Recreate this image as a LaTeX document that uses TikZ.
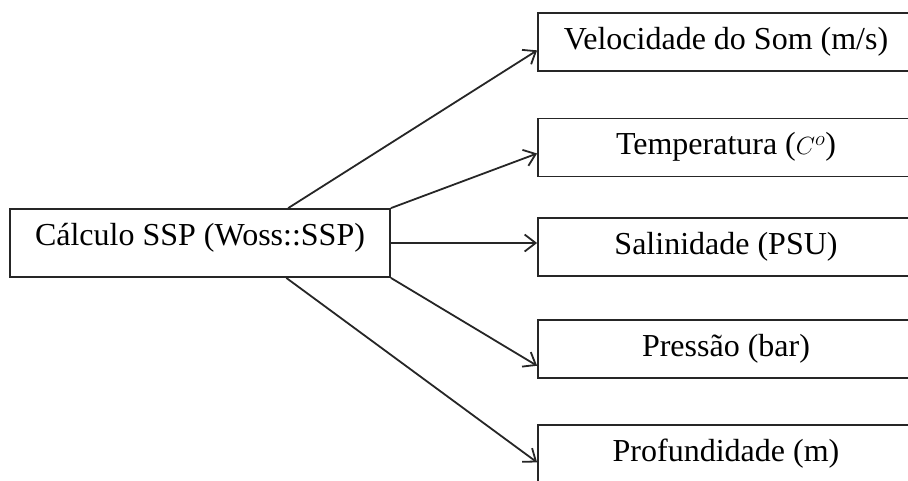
\documentclass[tikz,border=0pt]{standalone}
\usepackage{fontspec}
\setmainfont{Liberation Serif}
\usetikzlibrary{arrows.meta,calc}
% text set on a baseline at a fixed distance below the node centre
\newcommand{\baseat}[2]{\raisebox{-#1}[0pt][0pt]{#2}}
\begin{document}
\begin{tikzpicture}[x=1pt,y=-1pt,
  box/.style={draw=black!85,line width=1.8pt,rectangle,inner sep=0pt,
    font=\fontsize{32}{38}\selectfont},
  srcbox/.style={box,minimum width=380pt,minimum height=68pt},
  outbox/.style={box,minimum width=376pt,minimum height=58pt},
  link/.style={draw=black!85,line width=1.8pt,
    -{Straight Barb[length=11pt,width=17pt]}}]
\useasboundingbox (0,0) rectangle (908,480);

% source block
\node[srcbox] (calc) at (200,243) {\baseat{2pt}{Cálculo SSP (Woss::SSP)}};

% output quantities
\node[outbox] (vel)  at (726,42)    {\baseat{7pt}{Velocidade do Som (m/s)}};
\node[outbox] (temp) at (726,147.5) {\baseat{7pt}{Temperatura ($C^{o}$)}};
\node[outbox] (sal)  at (726,247)   {\baseat{7pt}{Salinidade (PSU)}};
\node[outbox] (pres) at (726,349)   {\baseat{7pt}{Pressão (bar)}};
\node[outbox] (prof) at (726,454)   {\baseat{7pt}{Profundidade (m)}};

% connectors
\draw[link] ($(calc.north west)!0.731!(calc.north east)$) -- ($(vel.north west)!0.64!(vel.south west)$);
\draw[link] (calc.north east) -- ($(temp.north west)!0.6!(temp.south west)$);
\draw[link] (calc.east) -- (calc.east -| sal.west);
\draw[link] (calc.south east) -- ($(pres.north west)!0.78!(pres.south west)$);
\draw[link] ($(calc.south west)!0.726!(calc.south east)$) -- ($(prof.north west)!0.64!(prof.south west)$);
\end{tikzpicture}
\end{document}
